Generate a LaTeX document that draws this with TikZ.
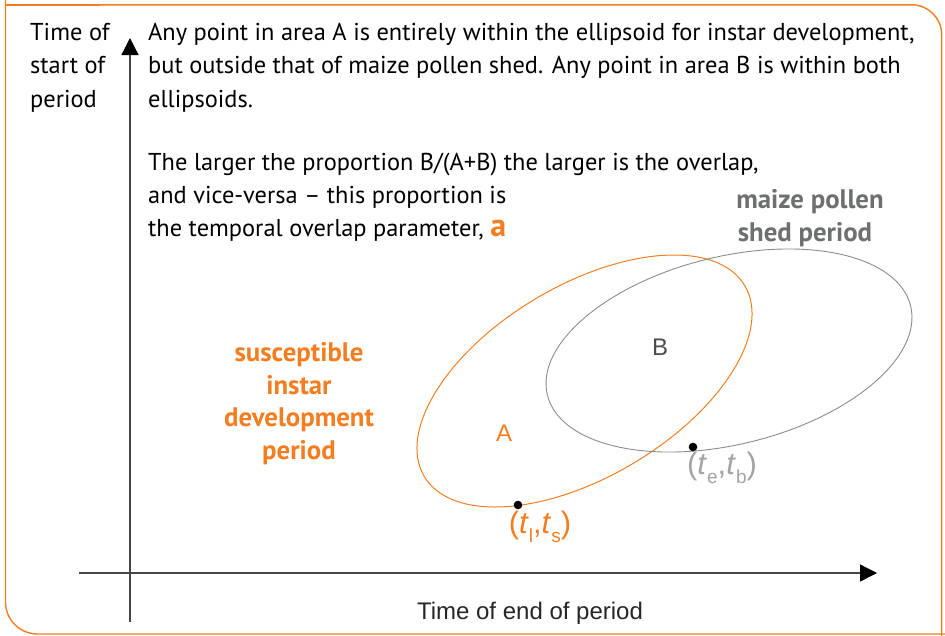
\documentclass[tikz,border=0pt]{standalone}
\usepackage{fontspec}
\setmainfont{PT Sans}
\newfontfamily\arialfont{Liberation Sans}
\usetikzlibrary{arrows.meta}
\definecolor{instarorange}{RGB}{244,125,32}
\definecolor{pollengray}{RGB}{110,111,113}
\definecolor{ellipsegray}{RGB}{140,140,140}
\definecolor{pointgray}{RGB}{162,164,167}
\definecolor{axisgray}{RGB}{70,70,70}
\tikzset{
  textline/.style={anchor=base west,inner sep=0pt,font=\fontsize{24.4}{28}\selectfont},
  boldlabel/.style={anchor=base,inner sep=0pt,font=\fontsize{26.8}{30}\selectfont\bfseries},
  axis/.style={axisgray,line width=1.3pt,-{Triangle[length=17pt,width=17pt,color=black]}},
  ptlabel/.style={inner sep=0pt,font=\arialfont\fontsize{31}{32}\selectfont}
}
\newcommand{\tpair}[2]{(\textit{t}\raisebox{-0.3em}{\fontsize{19}{19}\selectfont #1},\textit{t}\raisebox{-0.3em}{\fontsize{19}{19}\selectfont #2})}
\begin{document}
\begin{tikzpicture}[x=1pt,y=-1pt]
  \useasboundingbox (0,0) rectangle (945,635);
  \draw[instarorange,line width=1.4pt,rounded corners=32pt] (960,634) -- (5.5,634) -- (5.5,-40);
  \draw[instarorange,line width=1.4pt,rounded corners=30pt] (5.5,4.8) -- (941.7,4.8) -- (941.7,660);
  \draw[instarorange,line width=1.4pt] (5.5,40) -- (5.5,4.8) -- (100,4.8);

  \foreach \t [count=\i] in {Time of,start of,period}{
    \node[textline] (side\i) at (30,{7.5+33.2*\i}) {\t};
  }
  \foreach \t [count=\i] in {
      {Any point in area A is entirely within the ellipsoid for instar development,},
      {but outside that of maize pollen shed. Any point in area B is within both},
      ellipsoids.}{
    \node[textline] (first\i) at (148,{7.5+33.2*\i}) {\t};
  }
  \foreach \t [count=\i] in {
      {The larger the proportion B/(A+B) the larger is the overlap,},
      {and vice-versa -- this proportion is},
      {the temporal overlap parameter, {\color{instarorange}\fontsize{32}{32}\selectfont\bfseries a}}}{
    \node[textline] (second\i) at (148,{137.5+33*\i}) {\t};
  }

  \node[boldlabel,pollengray] (maize) at (810,208) {maize pollen};
  \node[boldlabel,pollengray] (shed) at (805,241) {shed period};
  \foreach \t [count=\i] in {susceptible,instar,development,period}{
    \node[boldlabel,instarorange] (instar\i) at (299,{329+32.6*\i}) {\t};
  }

  \coordinate (yfoot) at (130,622);
  \coordinate (ytop) at (130,38);
  \coordinate (xfoot) at (79,573);
  \coordinate (xtip) at (877,573);
  \draw[axis] (yfoot) -- (ytop);
  \draw[axis] (xfoot) -- (xtip);
  \node[anchor=base,inner sep=0pt,font=\arialfont\fontsize{24}{28}\selectfont,text=black!85] (xlabel) at (530,619.3) {Time of end of period};

  \draw[instarorange,line width=1pt,rotate around={30.8:(584.5,381)}] (584.5,381) ellipse [x radius=186.5pt,y radius=95.7pt];
  \draw[ellipsegray,line width=0.9pt,rotate around={13.8:(729,350.5)}] (729,350.5) ellipse [x radius=187pt,y radius=93.9pt];

  \node[inner sep=0pt,font=\arialfont\fontsize{24}{28}\selectfont,instarorange] (areaA) at (504,433) {A};
  \node[inner sep=0pt,font=\arialfont\fontsize{24}{28}\selectfont,text=black!70] (areaB) at (660,347) {B};

  \fill (518,505) circle[radius=4.3pt];
  \fill (693,447) circle[radius=4.3pt];
  \node[ptlabel,instarorange] (tlts) at (540,527) {\tpair{l}{s}};
  \node[ptlabel,pointgray] (tetb) at (722,468) {\tpair{e}{b}};
\end{tikzpicture}
\end{document}
